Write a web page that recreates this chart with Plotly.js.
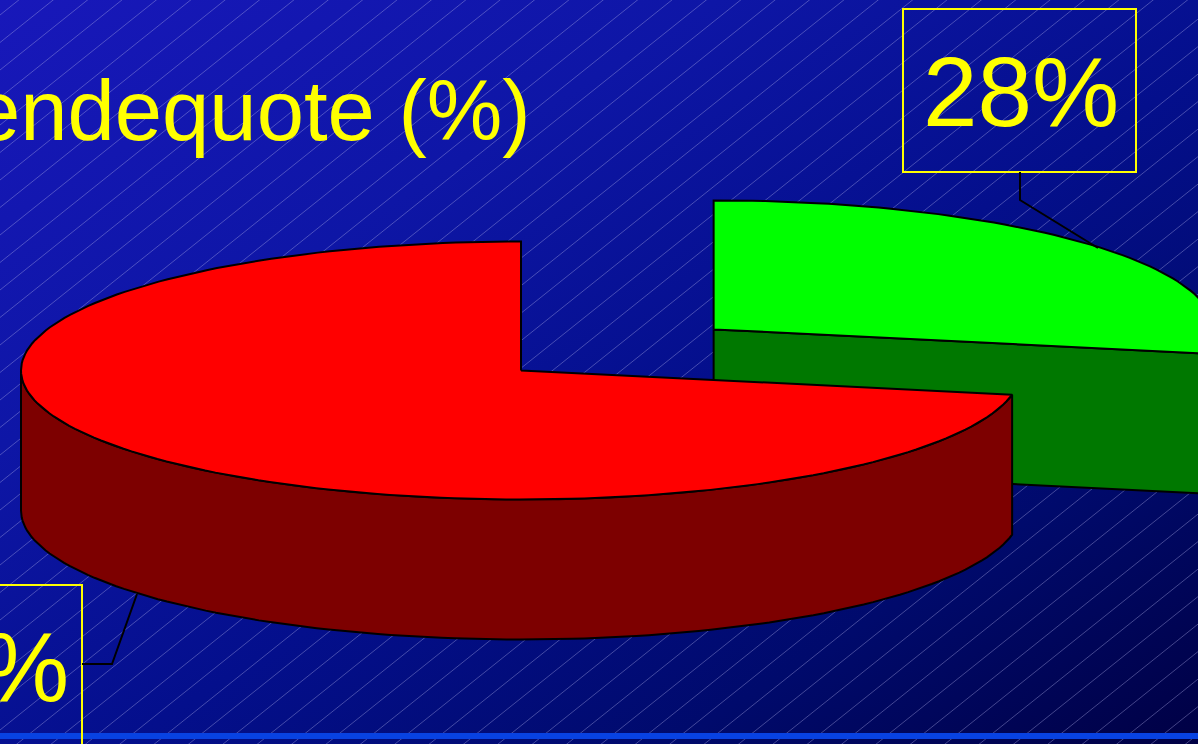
<!DOCTYPE html>
<html>
<head>
<meta charset="utf-8">
<script src="https://cdn.plot.ly/plotly-3.0.1.min.js"></script>
<style>
  html, body { margin: 0; padding: 0; overflow: hidden; }
  #chart {
    width: 1198px; height: 744px;
    background: linear-gradient(to bottom right, #1818ba 0%, #0e16a6 30%, #040f8c 55%, #000a6c 78%, #000044 100%);
  }
</style>
</head>
<body>
<div id="chart"></div>
<script>
// ---- data ----
const sliceNames = ['Anteil 1', 'Anteil 2'];
const sliceValues = [72, 28];
const sliceExplode = [0, 0.5];
const titleText = 'endequote (%)';

// ---- style / geometry ----
const topColors = ['#ff0000', '#00ff00'];
const sideColors = ['#7d0000', '#007800'];
const CX = 521, CY = 370.5, RX = 500, RY = 129, DEPTH = 140;
const YELLOW = '#ffff00';
const FONT = 'Liberation Sans, Arial, sans-serif';

const total = sliceValues.reduce((a, b) => a + b, 0);
const rad = d => d * Math.PI / 180;
function pt(cx, cy, th, dz) {
  return [cx - RX * Math.sin(rad(th)), cy - RY * Math.cos(rad(th)) + dz];
}
function arc(cx, cy, a, b, dz) {
  const n = Math.max(2, Math.ceil(Math.abs(b - a) / 1.5));
  const out = [];
  for (let i = 0; i <= n; i++) out.push(pt(cx, cy, a + (b - a) * i / n, dz));
  return out;
}
function poly(points, fill) {
  return {
    type: 'scatter', mode: 'lines', fill: 'toself', fillcolor: fill,
    x: points.map(p => p[0]), y: points.map(p => p[1]),
    line: { color: '#000000', width: 2 },
    hoverinfo: 'skip', showlegend: false
  };
}

// slice angles
let acc = 0;
const slices = sliceValues.map((v, i) => {
  const a0 = acc / total * 360;
  acc += v;
  const a1 = acc / total * 360;
  const mid = (a0 + a1) / 2;
  const e = sliceExplode[i];
  const cx = CX - e * RX * Math.sin(rad(mid));
  const cy = CY - e * RY * Math.cos(rad(mid));
  return { i, a0, a1, cx, cy };
});

const traces = [];
slices.slice().sort((p, q) => p.cy - q.cy).forEach(s => {
  const side = sideColors[s.i], top = topColors[s.i];
  // radial cut faces
  [[s.a0, s.a0 - 90], [s.a1, s.a1 + 90]].forEach(([th, nrm]) => {
    if (Math.cos(rad(nrm)) < -1e-6) {
      const rimT = pt(s.cx, s.cy, th, 0), rimB = pt(s.cx, s.cy, th, DEPTH);
      traces.push(poly([[s.cx, s.cy], rimT, rimB, [s.cx, s.cy + DEPTH], [s.cx, s.cy]], side));
    }
  });
  // outer wall (front half: 90..270)
  const wa = Math.max(s.a0, 90), wb = Math.min(s.a1, 270);
  if (wb > wa) {
    const upper = arc(s.cx, s.cy, wa, wb, 0);
    const lower = arc(s.cx, s.cy, wb, wa, DEPTH);
    const pts = upper.concat(lower); pts.push(upper[0]);
    traces.push(poly(pts, side));
  }
  // top face
  const tp = [[s.cx, s.cy]].concat(arc(s.cx, s.cy, s.a0, s.a1, 0));
  tp.push([s.cx, s.cy]);
  traces.push(poly(tp, top));
});

// hatch lines
let hatch = '';
for (let b = -40; b <= 744 + 0.8 * 1198 + 60; b += 27.5) {
  hatch += `M-20,${(b + 0.8 * 20).toFixed(1)} L1220,${(b - 0.8 * 1220).toFixed(1)} `;
}

const labels = sliceValues.map(v => v + '%');

const layout = {
  width: 1198, height: 744,
  margin: { l: 0, r: 0, t: 0, b: 0, pad: 0 },
  paper_bgcolor: 'rgba(0,0,0,0)', plot_bgcolor: 'rgba(0,0,0,0)',
  xaxis: { range: [0, 1198], visible: false, fixedrange: true },
  yaxis: { range: [744, 0], visible: false, fixedrange: true },
  showlegend: false,
  shapes: [
    { type: 'path', path: hatch, xref: 'x', yref: 'y', layer: 'below',
      line: { color: 'rgba(175,175,235,0.38)', width: 1 } },
    { type: 'rect', xref: 'x', yref: 'y', x0: -10, x1: 1210, y0: 733, y1: 739,
      fillcolor: '#0842e2', line: { width: 0 }, layer: 'below' },
    // label boxes
    { type: 'rect', xref: 'x', yref: 'y', x0: 903, x1: 1136, y0: 9, y1: 172,
      line: { color: YELLOW, width: 2 } },
    { type: 'rect', xref: 'x', yref: 'y', x0: -151, x1: 82, y0: 585, y1: 760,
      line: { color: YELLOW, width: 2 } },
    // leader lines
    { type: 'path', xref: 'x', yref: 'y', path: 'M1020,172 L1020,200 L1098,248',
      line: { color: '#000000', width: 2 } },
    { type: 'path', xref: 'x', yref: 'y', path: 'M82,664 L112,664 L137,594',
      line: { color: '#000000', width: 2 } }
  ],
  annotations: [
    { text: titleText, xref: 'x', yref: 'y', x: 533, y: 110.5, xanchor: 'right', yanchor: 'middle',
      showarrow: false, font: { family: FONT, size: 85, color: YELLOW } },
    { text: labels[1], xref: 'x', yref: 'y', x: 1021, y: 92, xanchor: 'center', yanchor: 'middle',
      showarrow: false, font: { family: FONT, size: 98, color: YELLOW } },
    { text: labels[0], xref: 'x', yref: 'y', x: 71, y: 667, xanchor: 'right', yanchor: 'middle',
      showarrow: false, font: { family: FONT, size: 98, color: YELLOW } }
  ]
};

Plotly.newPlot('chart', traces, layout, { staticPlot: true, displayModeBar: false });
</script>
</body>
</html>
